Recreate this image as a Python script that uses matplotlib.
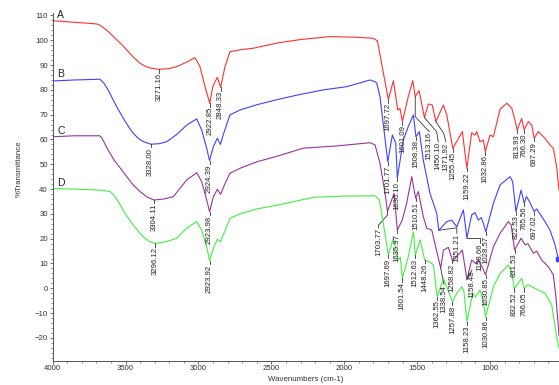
import numpy as np
import matplotlib
matplotlib.use("Agg")
import matplotlib.pyplot as plt
from matplotlib.ticker import MultipleLocator

plt.rcParams['font.family'] = ['Liberation Sans', 'DejaVu Sans']

# spectra (wavenumber cm-1, %T)
A_wn = [4000, 3835, 3700, 3680, 3650, 3620, 3607, 3580, 3550, 3520, 3492, 3450, 3401, 3360, 3330, 3271.16,
        3200, 3149, 3080, 3024, 2990, 2955,
        2922.85, 2902, 2871, 2848.33, 2818, 2784, 2700, 2624, 2452, 2300, 2098, 1900, 1801, 1773, 1748, 1725,
        1697.72, 1663, 1633, 1618, 1601.09, 1561, 1530, 1513.16, 1487, 1450.10, 1423, 1396, 1371.92, 1320, 1297,
        1255.45, 1190, 1159.22, 1126, 1103, 1091, 1069, 1046, 1032.86, 1000, 977, 931, 885, 851, 830, 813.93,
        783, 766.30, 737, 714, 697.29, 669, 623, 589, 566, 543, 527]
A_T = [107.9, 107.2, 106.6, 106.2, 105.0, 103.6, 102.8, 101.3, 99.6, 97.9, 96.1, 93.4, 90.7, 89.4, 88.8, 88.3,
       88.6, 89.4, 91.2, 93.0, 89.4, 81.3,
       74.6, 81.3, 85.1, 81.0, 89.4, 95.4, 96.3, 96.8, 99.0, 100.3, 101.5, 101.2, 100.8, 99.8, 92.0, 84.7,
       76.2, 83.7, 71.9, 72.5, 67.2, 77.3, 83.7, 77.3, 79.7, 68.8, 74.3, 73.9, 67.2, 73.9, 69.9,
       56.4, 63.2, 48.4, 62.7, 61.8, 63.2, 59.1, 59.8, 55.1, 61.8, 61.1, 72.2, 74.6, 72.6, 68.0, 63.8,
       68.5, 64.0, 67.2, 65.8, 60.5, 63.2, 60.5, 57.8, 56.5, 49.0, 39.6]

B_wn = [4000, 3850, 3676, 3650, 3620, 3590, 3561, 3530, 3500, 3470, 3447, 3410, 3380, 3328.00, 3270, 3218,
        3150, 3081, 3012, 2978, 2944,
        2924.39, 2898, 2871, 2850, 2830, 2784, 2715, 2600, 2452, 2300, 2144, 1983, 1823, 1789, 1777, 1755,
        1725, 1701.77, 1670, 1647, 1636.10, 1595, 1561, 1526, 1508.38, 1485, 1458, 1412, 1366, 1351.21, 1297,
        1263, 1228, 1183, 1158.66, 1126, 1103, 1080, 1060, 1045, 1028.57, 977, 931, 863, 845, 822.53, 787,
        765.56, 750, 730, 697.02, 680, 623, 589, 554, 531]
B_T = [83.6, 84.0, 84.3, 82.8, 80.0, 76.5, 73.2, 70.0, 67.0, 64.3, 62.5, 60.3, 59.2, 58.1, 58.3, 59.1,
       62.0, 65.8, 68.3, 63.8, 56.5,
       51.5, 57.1, 60.5, 58.0, 62.0, 69.9, 71.9, 74.0, 76.2, 78.2, 80.0, 81.3, 84.0, 83.3, 82.7, 77.3,
       62.5, 51.0, 61.8, 58.5, 44.5, 59.8, 65.2, 69.9, 61.1, 63.2, 51.7, 38.3, 30.2, 23.4, 26.9,
       27.5, 24.8, 31.6, 20.2, 29.6, 30.5, 27.5, 28.5, 26.0, 22.8, 34.3, 41.7, 45.0, 43.0, 30.9, 39.6,
       34.3, 37.0, 35.0, 30.9, 32.0, 26.9, 23.5, 17.5, 11.7]

C_wn = [4000, 3850, 3676, 3660, 3640, 3620, 3607, 3580, 3550, 3520, 3492, 3450, 3401, 3350, 3304.11, 3240,
        3173, 3081, 3012, 2978, 2944,
        2923.98, 2898, 2871, 2848, 2820, 2784, 2715, 2600, 2452, 2281, 2052, 1823, 1789, 1755, 1720,
        1703.77, 1658, 1635.97, 1602, 1572, 1537, 1510.51, 1492, 1458, 1434, 1400, 1338.54, 1320, 1286,
        1258.82, 1240, 1190, 1158.48, 1126, 1100, 1080, 1050, 1030.85, 977, 931, 874, 855, 831.53, 787,
        760, 740, 703, 680, 646, 600, 566, 548, 527]
C_T = [61.1, 61.5, 61.5, 60.3, 58.0, 55.8, 54.4, 51.8, 49.5, 47.2, 45.0, 41.8, 39.0, 36.7, 35.6, 36.0,
       36.9, 43.7, 46.6, 43.0, 35.6,
       30.9, 36.9, 39.9, 37.9, 42.0, 46.4, 48.4, 51.0, 53.4, 56.5, 57.4, 58.7, 57.8, 50.4, 38.3,
       31.0, 38.3, 23.5, 27.5, 34.3, 45.0, 36.3, 39.0, 28.9, 24.2, 23.5, 8.1, 15.4, 16.5,
       11.4, 12.0, 15.4, 3.5, 11.4, 10.0, 11.4, 8.0, 5.4, 16.8, 22.2, 26.9, 25.5, 15.4, 20.2,
       17.5, 18.0, 14.1, 15.0, 11.4, 8.7, 5.4, -3.4, -19.0]

D_wn = [4000, 3850, 3676, 3640, 3607, 3580, 3550, 3504, 3450, 3401, 3370, 3340, 3296.12, 3220, 3149, 3081,
        3012, 2978, 2944,
        2923.92, 2898, 2871, 2848, 2830, 2784, 2715, 2600, 2452, 2212, 1983, 1789, 1759, 1732, 1697.69,
        1663, 1629, 1615, 1601.54, 1561, 1526, 1512.63, 1480, 1448.26, 1412, 1389, 1362.55, 1320, 1300,
        1257.88, 1228, 1194, 1180, 1158.23, 1119, 1100, 1069, 1050, 1030.86, 977, 931, 874, 855, 832.52,
        783, 766.05, 740, 669, 623, 577, 543, 527]
D_T = [40.2, 40.0, 39.6, 39.3, 39.0, 37.5, 35.0, 30.2, 25.6, 22.2, 20.3, 19.0, 18.1, 18.8, 20.2, 24.2,
       26.9, 23.5, 16.8,
       11.1, 16.1, 19.8, 18.8, 21.5, 28.2, 30.0, 32.0, 33.6, 36.7, 37.2, 37.3, 35.6, 26.2, 13.4,
       20.2, 11.4, 12.5, 4.0, 12.7, 22.8, 13.4, 19.5, 11.4, 10.5, 9.5, -3.4, 4.0, 1.0,
       -5.4, -2.0, 0.6, -1.0, -13.5, -2.0, -3.5, -0.7, -4.0, -11.5, 0.6, 6.0, 9.4, 7.0, 0.0,
       4.0, 0.0, 1.5, -0.7, -2.0, -6.7, -19.5, -24.0]

A_peaks = ["3271.16", "2922.85", "2848.33", "1697.72", "1601.09", "1513.16", "1450.10", "1371.92",
           "1255.45", "1159.22", "1032.86", "813.93", "766.30", "697.29"]
B_peaks = ["3328.00", "2924.39", "1701.77", "1636.10", "1508.38", "1351.21", "1158.66", "1028.57",
           "822.53", "765.56", "697.02"]
C_peaks = ["3304.11", "2923.98", "1703.77", "1635.97", "1510.51", "1338.54", "1258.82", "1158.48",
           "1030.85", "831.53"]
D_peaks = ["3296.12", "2923.92", "1697.69", "1601.54", "1512.63", "1448.26", "1362.55", "1257.88",
           "1158.23", "1030.86", "832.52", "766.05"]

# labels that were moved aside with a bent leader line: points after the peak, label hangs from the last
leaders = {
    "1513.16": [(1513.16, 69.2), (1417, 63.1)],
    "1450.10": [(1366, 63.1), (1355, 59.0)],
    "1371.92": [(1318, 62.5), (1303, 59.0)],
    "1351.21": [(1228, 24.4), (1228, 22.2)],
    "1158.66": [(1069, 20.2), (1069, 18.1)],
    "1703.77": [(1703.77, 29.5), (1765, 25.5), (1765, 24.5)],
    "1338.54": [(1316, 1.5)],
    "1158.48": [(1124, 7.4)],
}

names = ["A", "B", "C", "D"]
name_T = [110, 86.4, 63.5, 42.6]
colors = ["#ff3030", "#4040ff", "#993399", "#40f040"]


def label_peaks(ax, wn, T, peaks):
    wn_r = np.array(wn)[::-1]
    T_r = np.array(T)[::-1]
    for p in peaks:
        x0 = float(p)
        y0 = np.interp(x0, wn_r, T_r)
        path = [(x0, y0)] + leaders.get(p, [(x0, y0 - 1.3)])
        ax.plot([q[0] for q in path], [q[1] for q in path], color='#333333', lw=0.6)
        ax.text(path[-1][0], path[-1][1] - 0.2, p, rotation=90, ha='center', va='top',
                fontsize=5.6, color='#222222')


fig = plt.figure(figsize=(5.59, 3.85), dpi=100)
ax = fig.add_axes([0.0943, 0.0631, 0.9057, 0.9031])

data = [(A_wn, A_T, A_peaks), (B_wn, B_T, B_peaks), (C_wn, C_T, C_peaks), (D_wn, D_T, D_peaks)]
for i, (wn, T, peaks) in enumerate(data):
    ax.plot(wn, T, color=colors[i], lw=0.8)
    label_peaks(ax, wn, T, peaks)
    ax.text(3970, name_T[i], names[i], fontsize=7.5, color='#222222', ha='left', va='center')
ax.plot(B_wn[-1], B_T[-1], 's', color=colors[1], ms=2.5)

ax.set_xlim(4000, 527)
ax.set_ylim(-29.2, 111)
ax.set_xticks([4000, 3500, 3000, 2500, 2000, 1500, 1000])
ax.set_yticks(np.arange(-20, 111, 10))
ax.xaxis.set_minor_locator(MultipleLocator(100))
ax.yaxis.set_minor_locator(MultipleLocator(2))
ax.tick_params(which='major', labelsize=5.6, length=2.4, width=0.6, color='#555555',
               labelcolor='#333333', pad=1)
ax.tick_params(which='minor', length=1.2, width=0.5, color='#555555')
for s in ['top', 'right']:
    ax.spines[s].set_visible(False)
for s in ['left', 'bottom']:
    ax.spines[s].set_color('#555555')
    ax.spines[s].set_linewidth(0.7)
ax.patch.set_alpha(0)

fig.text(0.547, 0.013, "Wavenumbers (cm-1)", fontsize=5.7, color='#333333', ha='center', va='center')
fig.text(0.0352, 0.5623, "%Transmittance", fontsize=5.7, color='#333333', ha='center', va='center',
         rotation=90)

fig.savefig("out.png", dpi=100)
